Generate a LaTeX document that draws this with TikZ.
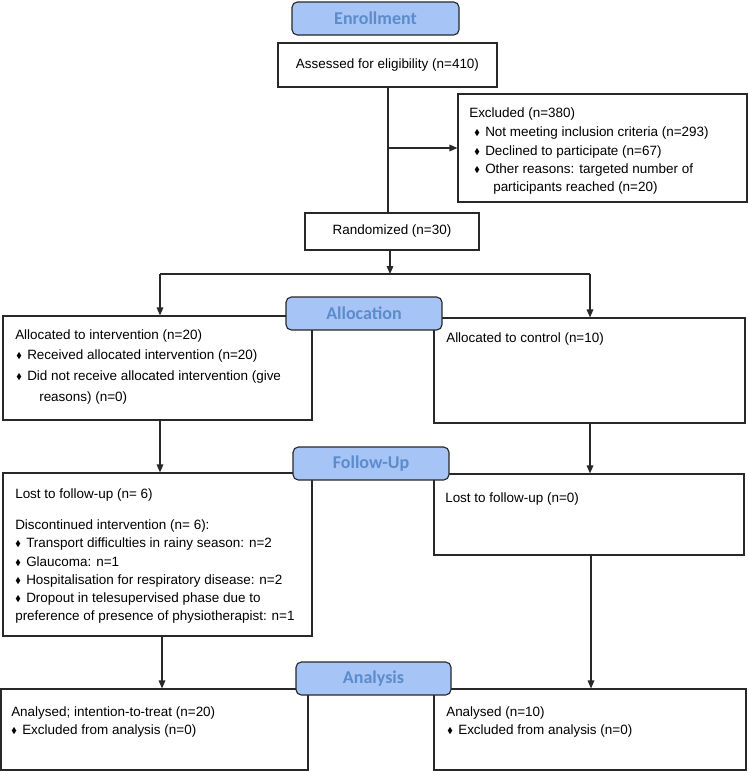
\documentclass[tikz,border=0pt]{standalone}
\usepackage{fontspec}
\usepackage{amssymb}
\usepackage{graphicx}
\setmainfont{Liberation Sans}
\newfontfamily\hdrfont{Carlito}
\usetikzlibrary{arrows.meta,fit}
\definecolor{hfill}{RGB}{166,196,245}
\definecolor{htext}{RGB}{92,140,204}
\definecolor{lnc}{RGB}{40,40,40}
\newcommand\dia{\makebox[8.4pt][l]{\hspace{0.2pt}\raisebox{0.4pt}{\scalebox{0.62}{$\blacklozenge$}}}}
\begin{document}
\begin{tikzpicture}[x=0.75pt,y=-0.75pt,
  box/.style={draw=lnc,line width=0.85pt,inner sep=0pt},
  hdr/.style={draw=lnc,line width=0.85pt,fill=hfill,rounded corners=4pt,inner sep=0pt},
  htxt/.style={inner sep=0pt,anchor=center,text=htext,font=\hdrfont\bfseries\fontsize{13.5pt}{16pt}\selectfont},
  ctxt/.style={inner sep=0pt,anchor=center},
  txt/.style={inner sep=0pt,anchor=base west},
  ln/.style={draw=lnc,line width=0.85pt},
  arr/.style={ln,-{Triangle[length=6pt,width=5pt]}},
  font=\fontsize{10.1pt}{13pt}\selectfont]
\useasboundingbox (0,0) rectangle (749,771);

% boxes
\node[box,fit={(278,43) (497,87)}] (assess) {};
\node[ctxt] (assessT) at (assess.center) {Assessed for eligibility (n=410)};
\node[box,fit={(458,94) (747,202)}] (excl) {};
\node[box,fit={(305,213) (479,250)}] (rand) {};
\node[ctxt] (randT) at (rand.center) {Randomized (n=30)};
\node[box,fit={(3,316) (312,420)}] (allocL) {};
\node[box,fit={(434,318) (745,423)}] (allocR) {};
\node[box,fit={(3,473) (312,636)}] (folL) {};
\node[box,fit={(434,474) (744,555)}] (folR) {};
\node[box,fit={(1,689) (308,770)}] (anaL) {};
\node[box,fit={(434,689) (746,770)}] (anaR) {};

% connectors
\coordinate (sl) at (160,274);
\coordinate (sr) at (590,274);
\coordinate (c1) at (388,0);
\coordinate (c2) at (390,0);
\coordinate (c3) at (162,0);
\coordinate (c4) at (591,0);
\draw[ln] (c1 |- assess.south) -- (c1 |- rand.north);
\draw[arr] (c1 |- excl.west) -- (excl.west);
\draw[arr] (c2 |- rand.south) -- (c2 |- sl);
\draw[ln] (sl) -- (sr);
\draw[arr] (sl) -- (sl |- allocL.north);
\draw[arr] (sr) -- (sr |- allocR.north);
\draw[arr] (sl |- allocL.south) -- (sl |- folL.north);
\draw[arr] (sr |- allocR.south) -- (sr |- folR.north);
\draw[arr] (c3 |- folL.south) -- (c3 |- anaL.north);
\draw[arr] (c4 |- folR.south) -- (c4 |- anaR.north);

% headers
\node[hdr,fit={(292,2) (459,35)}] (henr) {};
\node[htxt] (henrT) at (henr.center) {Enrollment};
\node[hdr,fit={(286,297) (442,330)}] (halloc) {};
\node[htxt] (hallocT) at (halloc.center) {Allocation};
\node[hdr,fit={(293,447) (449,480)}] (hfol) {};
\node[htxt] (hfolT) at (hfol.center) {Follow-Up};
\node[hdr,fit={(296,662) (451,695)}] (hana) {};
\node[htxt] (hanaT) at (hana.center) {Analysis};

% excluded text
\node[txt] (e1) at (469,117) {Excluded (n=380)};
\node[txt] (e2) at (473.8,136) {\dia Not meeting inclusion criteria (n=293)};
\node[txt] (e3) at (473.8,155) {\dia Declined to participate (n=67)};
\node[txt] (e4) at (473.8,173) {\dia Other reasons: targeted number of};
\node[txt] (e5) at (493,191) {participants reached (n=20)};

% allocation text
\node[txt] (a1) at (15,339.5) {Allocated to intervention (n=20)};
\node[txt] (a2) at (15.8,359.5) {\dia Received allocated intervention (n=20)};
\node[txt] (a3) at (15.8,380.5) {\dia Did not receive allocated intervention (give};
\node[txt] (a4) at (39,401.5) {reasons) (n=0)};
\node[txt] (a5) at (446,342) {Allocated to control (n=10)};

% follow-up text
\node[txt] (f1) at (15,498.5) {Lost to follow-up (n= 6)};
\node[txt] (f2) at (15,529.5) {Discontinued intervention (n= 6):};
\node[txt] (f3) at (14.8,547.5) {\dia Transport difficulties in rainy season: n=2};
\node[txt] (f4) at (14.8,566.5) {\dia Glaucoma: n=1};
\node[txt] (f5) at (14.8,584.5) {\dia Hospitalisation for respiratory disease: n=2};
\node[txt] (f6) at (14.8,602.5) {\dia Dropout in telesupervised phase due to};
\node[txt] (f7) at (15,620.5) {preference of presence of physiotherapist: n=1};
\node[txt] (f8) at (445,502) {Lost to follow-up (n=0)};

% analysis text
\node[txt] (n1) at (11,716) {Analysed; intention-to-treat (n=20)};
\node[txt] (n2) at (10.8,734.5) {\dia Excluded from analysis (n=0)};
\node[txt] (n3) at (446,716) {Analysed (n=10)};
\node[txt] (n4) at (446.8,734.5) {\dia Excluded from analysis (n=0)};
\end{tikzpicture}
\end{document}
